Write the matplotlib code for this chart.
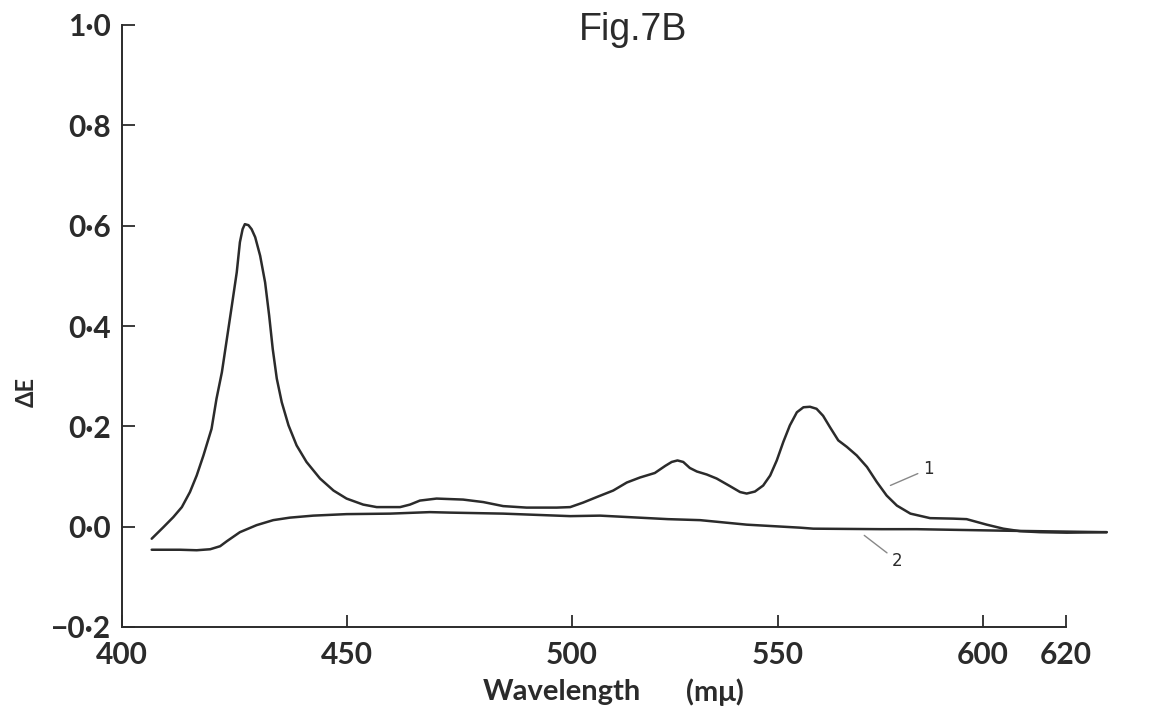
import numpy as np
import matplotlib
matplotlib.use("Agg")
import matplotlib.pyplot as plt

# curve 1: wavelength (nm) and delta E
wl_1 = [406.6, 409.2, 411.4, 413.3, 415.1, 416.6, 418.1, 419.9, 421.0, 422.2,
        423.3, 424.4, 425.5, 426.2, 426.8, 427.3, 428.1, 428.8, 429.6, 430.7,
        431.8, 432.7, 433.5, 434.4, 435.5, 437.0, 438.8, 441.0, 444.0, 447.0,
        449.9, 453.6, 456.6, 461.8, 464.0, 466.2, 469.9, 475.8, 480.3, 484.7,
        489.9, 496.6, 499.6, 502.7, 506.0, 510.0, 513.3, 516.5, 520.1, 522.6,
        524.2, 525.6, 527.0, 528.6, 530.3, 532.7, 535.1, 538.3, 540.8, 542.4,
        544.4, 546.4, 548.1, 549.7, 551.3, 552.9, 554.6, 556.2, 557.8, 559.4,
        561.0, 562.7, 564.7, 566.8, 569.2, 571.7, 574.1, 576.5, 579.0, 582.3,
        587.1, 592.8, 596.0, 600.9, 604.9, 608.9, 613.7, 620.2, 629.8]
de_1 = [-0.024, -0.001, 0.019, 0.039, 0.069, 0.102, 0.142, 0.195, 0.255, 0.308,
        0.374, 0.440, 0.507, 0.567, 0.593, 0.603, 0.601, 0.593, 0.577, 0.540,
        0.487, 0.421, 0.354, 0.295, 0.248, 0.202, 0.162, 0.129, 0.096, 0.072,
        0.056, 0.044, 0.039, 0.039, 0.044, 0.052, 0.056, 0.054, 0.049, 0.041,
        0.038, 0.038, 0.039, 0.048, 0.059, 0.072, 0.088, 0.098, 0.107, 0.121,
        0.129, 0.132, 0.129, 0.117, 0.110, 0.104, 0.096, 0.081, 0.069, 0.066,
        0.070, 0.082, 0.102, 0.132, 0.169, 0.202, 0.228, 0.238, 0.239, 0.235,
        0.221, 0.198, 0.172, 0.159, 0.142, 0.119, 0.089, 0.062, 0.042, 0.026,
        0.017, 0.016, 0.015, 0.004, -0.004, -0.009, -0.011, -0.012, -0.011]

# curve 2
wl_2 = [406.6, 412.9, 416.6, 419.6, 421.8, 423.3, 426.2, 429.9, 433.6, 437.3,
        442.5, 449.9, 459.6, 468.4, 472.9, 484.7, 499.6, 506.8, 523.3, 531.1,
        542.4, 555.4, 558.6, 575.2, 583.8, 604.9, 629.8]
de_2 = [-0.046, -0.046, -0.047, -0.045, -0.039, -0.029, -0.011, 0.003, 0.013, 0.018,
        0.022, 0.025, 0.026, 0.029, 0.028, 0.026, 0.021, 0.022, 0.015, 0.013,
        0.004, -0.002, -0.004, -0.005, -0.005, -0.008, -0.011]

x_ticks = [400, 450, 500, 550, 600, 620]
y_ticks = [-0.2, 0.0, 0.2, 0.4, 0.6, 0.8, 1.0]
y_labels = ["\u22120\u00b72", "0\u00b70", "0\u00b72", "0\u00b74", "0\u00b76", "0\u00b78", "1\u00b70"]

# the wavelength axis in the original is not evenly spaced
axis_nm = [380, 400, 450, 500, 550, 600, 620, 640]
axis_pos = [32, 122, 347, 572, 778, 983, 1066, 1149]


def fwd(x):
    return np.interp(x, axis_nm, axis_pos)


def inv(p):
    return np.interp(p, axis_pos, axis_nm)


ink = "#2b2b2b"
tick_font = dict(family=["Lato", "DejaVu Sans"], weight="bold", size=21.5, color=ink)

fig = plt.figure(figsize=(11.56, 7.15), dpi=100)
ax = fig.add_axes([122 / 1156, 1 - 627 / 715, (1107.5 - 122) / 1156, 602 / 715])

ax.plot(wl_1, de_1, color=ink, lw=1.8, solid_capstyle="round", solid_joinstyle="round")
ax.plot(wl_2, de_2, color=ink, lw=1.8, solid_capstyle="round", solid_joinstyle="round")

ax.set_xscale("function", functions=(fwd, inv))
ax.set_xlim(400, 630)
ax.set_ylim(-0.2, 1.0)

for s in ["top", "right"]:
    ax.spines[s].set_visible(False)
for s in ["left", "bottom"]:
    ax.spines[s].set_linewidth(1.4)
    ax.spines[s].set_color(ink)
ax.spines["bottom"].set_bounds(400, 620)

ax.set_xticks(x_ticks)
ax.set_xticklabels([str(t) for t in x_ticks], fontdict=tick_font)
ax.set_yticks(y_ticks)
ax.set_yticklabels(y_labels, fontdict=tick_font)
ax.xaxis.set_minor_locator(plt.NullLocator())
ax.tick_params(axis="both", direction="in", length=9, width=1.3, color=ink)
ax.tick_params(axis="x", pad=10)
ax.tick_params(axis="y", pad=8)

# curve labels with leader lines
ax.annotate("1", xy=(576.8, 0.080), xytext=(585.4, 0.115), fontsize=12,
            color=ink, ha="left", va="center",
            arrowprops=dict(arrowstyle="-", color="#888888", lw=1.0))
ax.annotate("2", xy=(570.5, -0.014), xytext=(577.8, -0.068), fontsize=12,
            color=ink, ha="left", va="center",
            arrowprops=dict(arrowstyle="-", color="#888888", lw=1.0))

fig.text(633 / 1156, 1 - 30 / 715, "Fig.7B", family="Liberation Sans",
         fontsize=27, color=ink, ha="center", va="center")
fig.text(26 / 1156, 1 - 392 / 715, "\u0394E", family=["Lato", "DejaVu Sans"],
         weight="bold", fontsize=17, color=ink, rotation=90, ha="center", va="center")
fig.text(562 / 1156, 1 - 692 / 715, "Wavelength", family=["Lato", "DejaVu Sans"],
         weight="bold", fontsize=21, color=ink, ha="center", va="center")
fig.text(715 / 1156, 1 - 692 / 715, "(m\u03bc)", family=["Lato", "DejaVu Sans"],
         weight="bold", fontsize=21, color=ink, ha="center", va="center")

fig.savefig("out.png", dpi=100)
